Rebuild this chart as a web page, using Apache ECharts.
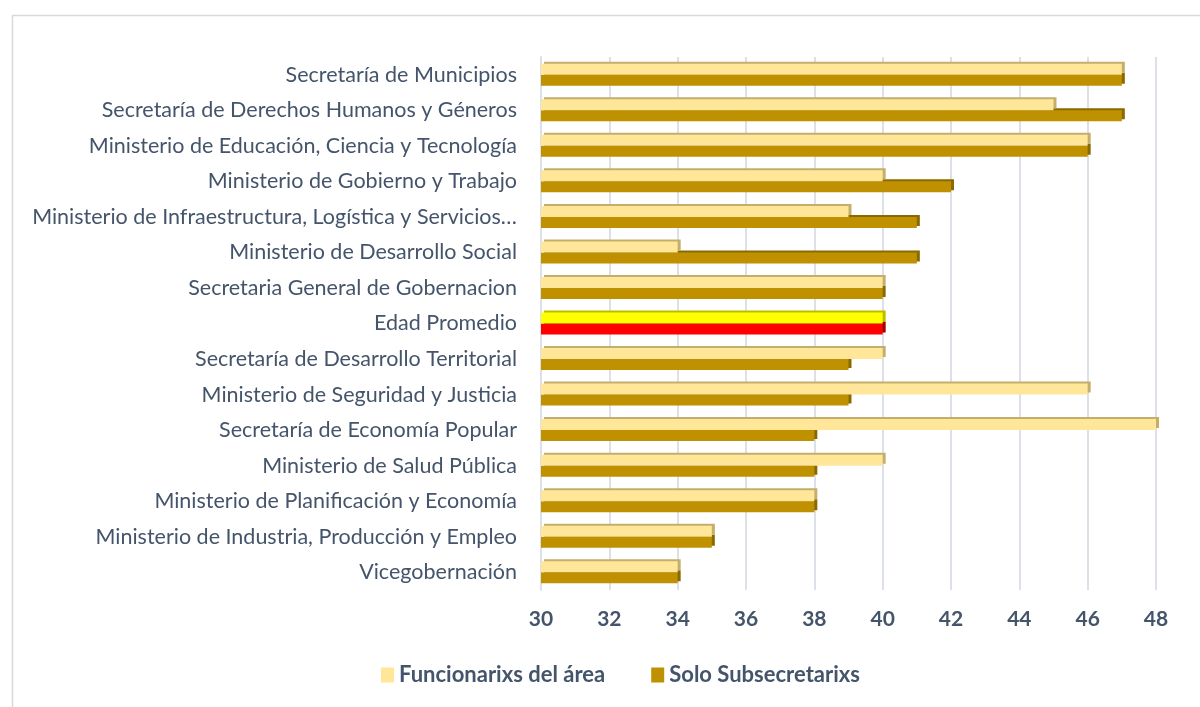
<!DOCTYPE html>
<html>
<head>
<meta charset="utf-8">
<script src="https://cdn.jsdelivr.net/npm/echarts@6/dist/echarts.min.js"></script>
<style>
html,body{margin:0;padding:0;background:#fff;}
#chart{width:1200px;height:707px;}
</style>
</head>
<body>
<div id="chart"></div>
<script>
const categories = [
  'Secretaría de Municipios',
  'Secretaría de Derechos Humanos y Géneros',
  'Ministerio de Educación, Ciencia y Tecnología',
  'Ministerio de Gobierno y Trabajo',
  'Ministerio de Infraestructura, Logística y Servicios…',
  'Ministerio de Desarrollo Social',
  'Secretaria General de Gobernacion',
  'Edad Promedio',
  'Secretaría de Desarrollo Territorial',
  'Ministerio de Seguridad y Justicia',
  'Secretaría de Economía Popular',
  'Ministerio de Salud Pública',
  'Ministerio de Planificación y Economía',
  'Ministerio de Industria, Producción y Empleo',
  'Vicegobernación'
];
const funcionarixs = [47, 45, 46, 40, 39, 34, 40, 40, 40, 46, 48, 40, 38, 35, 34];
const subsecretarixs = [47, 47, 46, 42, 41, 41, 40, 40, 39, 39, 38, 38, 38, 35, 34];
const seriesNames = ['Funcionarixs del área', 'Solo Subsecretarixs'];
const highlightCategory = 'Edad Promedio';

const LIGHT = '#FFE699', LIGHT_SIDE = '#C4AE6C';
const DARK = '#BF9000', DARK_SIDE = '#8A6A00';

function mkData(vals, base, side, hi, hiSide) {
  return vals.map((v, i) => {
    const isHi = categories[i] === highlightCategory;
    return {
      value: v,
      itemStyle: {
        color: isHi ? hi : base,
        shadowColor: isHi ? hiSide : side,
        shadowBlur: 0, shadowOffsetX: 3, shadowOffsetY: -2
      }
    };
  });
}

const chart = echarts.init(document.getElementById('chart'), null, {renderer: 'canvas'});
const labelFont = 'Lato, "Open Sans", sans-serif';
chart.setOption({
  animation: false,
  textStyle: {fontFamily: labelFont},
  graphic: [{
    type: 'rect', left: 10, top: 13, silent: true,
    shape: {width: 1300, height: 800},
    style: {fill: 'none', stroke: '#D9D9D9', lineWidth: 1.5}
  }],
  grid: {left: 541, right: 44, top: 57, bottom: 117, containLabel: false},
  xAxis: {
    type: 'value', min: 30, max: 48, interval: 2,
    axisLine: {show: false}, axisTick: {show: false},
    splitLine: {show: true, lineStyle: {color: '#DCE0E8', width: 2}},
    axisLabel: {color: '#44546A', fontSize: 21, fontWeight: 'bold', margin: 19, fontFamily: labelFont}
  },
  yAxis: {
    type: 'category', data: categories, inverse: true,
    axisLine: {show: true, lineStyle: {color: '#DCE0E8', width: 2}},
    axisTick: {show: false},
    axisLabel: {color: '#44546A', fontSize: 21.5, margin: 24, fontFamily: labelFont}
  },
  legend: {
    bottom: 16, left: 376, itemWidth: 13, itemHeight: 15, itemGap: 46,
    icon: 'rect',
    textStyle: {color: '#44546A', fontSize: 22, fontWeight: 'bold', fontFamily: labelFont},
    data: seriesNames
  },
  series: [
    {
      name: seriesNames[0], type: 'bar', data: mkData(funcionarixs, LIGHT, LIGHT_SIDE, '#FFFF00', '#BDBD00'),
      itemStyle: {color: LIGHT}, barWidth: 11, barGap: '0%', z: 3
    },
    {
      name: seriesNames[1], type: 'bar', data: mkData(subsecretarixs, DARK, DARK_SIDE, '#FF0000', '#A00000'),
      itemStyle: {color: DARK}, barWidth: 11, barGap: '0%', z: 2
    }
  ]
});
</script>
</body>
</html>
